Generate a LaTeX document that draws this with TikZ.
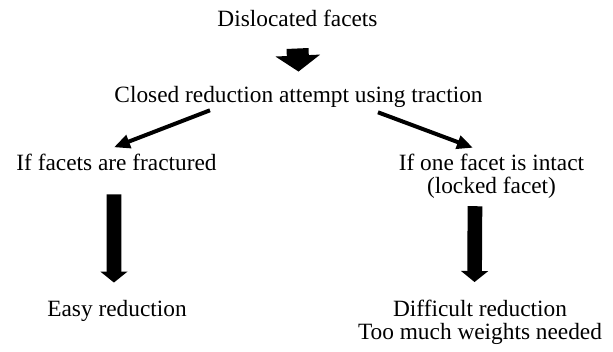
\documentclass[tikz,border=0pt]{standalone}
\usepackage{fontspec}
\setmainfont{Liberation Serif}
\usetikzlibrary{arrows.meta}
\begin{document}
\begin{tikzpicture}[x=0.75pt,y=0.75pt,
		txt/.style={inner sep=0pt,anchor=base,align=center,font=\fontsize{17.5}{16.9}\selectfont},
		fatarrow/.style={line width=16.5pt,-{Triangle[length=12pt,width=33pt]}},
		tallarrow/.style={line width=11pt,-{Triangle[length=8.25pt,width=20pt]}},
		thinarrow/.style={line width=3pt,-{Triangle[length=12pt,width=10pt]}}]
				\useasboundingbox (0,0) rectangle (613,351);
				
				\node[txt] (dislocated) at (297.5,324) {Dislocated facets};
				\node[txt] (closed) at (298.5,249) {Closed reduction attempt using traction};
				\node[txt] (fractured) at (116.5,181) {If facets are fractured};
				\node[txt] (intact) at (491.5,158) {If one facet is intact\\(locked facet)};
				\node[txt] (easy) at (117,35) {Easy reduction};
				\node[txt] (difficult) at (480,12) {Difficult reduction\\Too much weights needed};
				
				\draw[fatarrow] ([yshift=-15.75pt]dislocated.south) -- ([yshift=10.5pt]closed.north);
				
				\draw[thinarrow] ([xshift=-66.4pt,yshift=-2.25pt]closed.south) -- ([xshift=-1.9pt,yshift=4.5pt]fractured.north);
				\draw[thinarrow] ([xshift=59.6pt,yshift=-3.75pt]closed.south) -- ([xshift=-13.9pt,yshift=4.5pt]intact.north);
				
				\draw[tallarrow] ([xshift=-1.9pt,yshift=-18pt]fractured.south) -- ([xshift=-2.3pt,yshift=12.75pt]easy.north);
				\draw[tallarrow] ([xshift=-12.4pt,yshift=-6pt]intact.south) -- ([xshift=-4.1pt,yshift=13.3pt]difficult.north);
\end{tikzpicture}
\end{document}
